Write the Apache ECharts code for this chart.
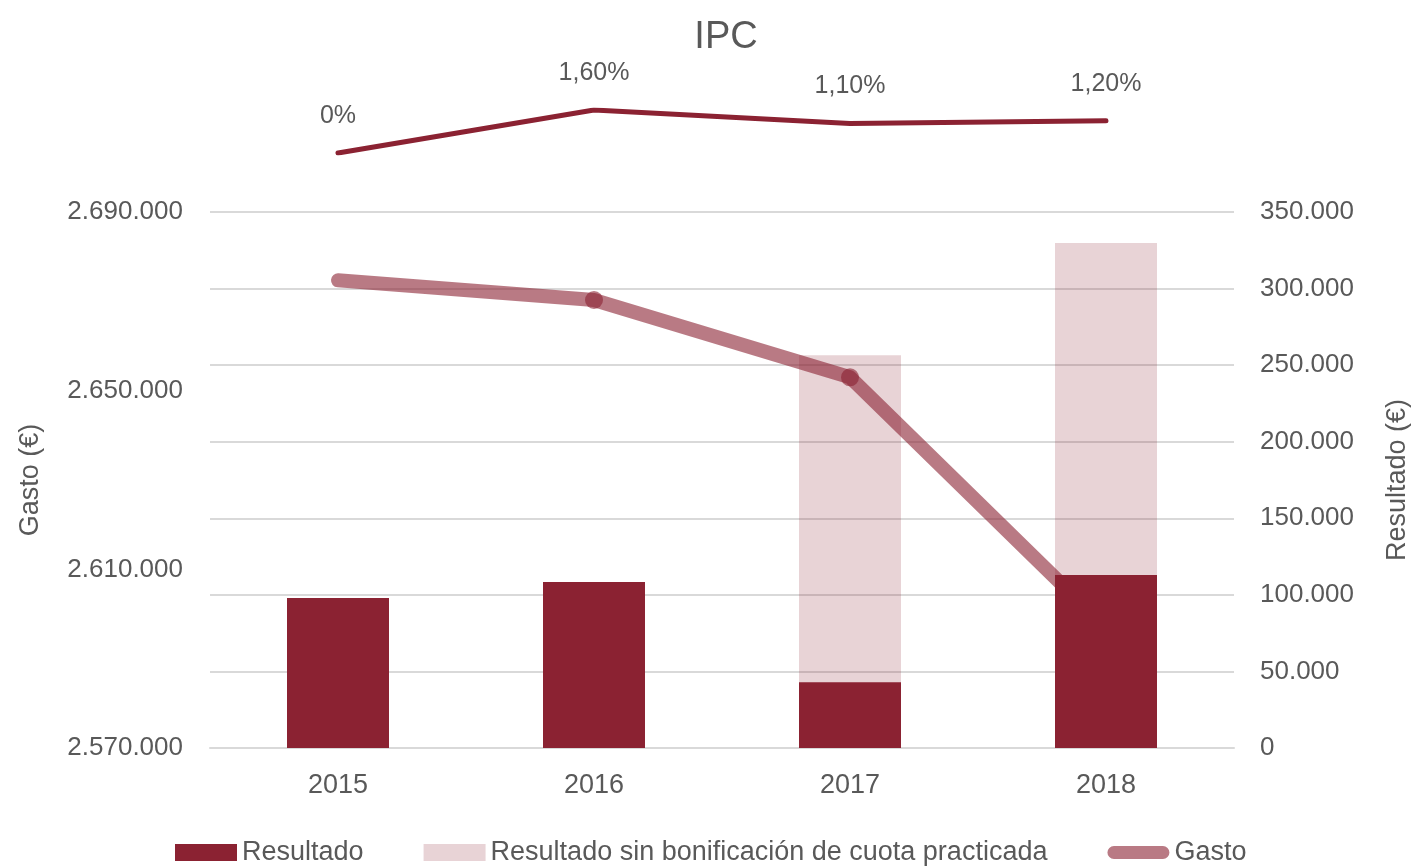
<!DOCTYPE html>
<html>
<head>
<meta charset="utf-8">
<title>IPC</title>
<script src="https://cdn.jsdelivr.net/npm/echarts@6/dist/echarts.min.js"></script>
<style>
  html, body { margin: 0; padding: 0; background: #fff; }
  #chart { width: 1414px; height: 867px; }
</style>
</head>
<body>
<div id="chart"></div>
<script>
// datos
const years = ['2015', '2016', '2017', '2018']
const ipc = [0, 1.6, 1.1, 1.2]
const gasto = [2674700, 2670300, 2653000, 2597000]
const resultado = [98000, 108400, 43000, 113000]
const resultadoSinBonif = ['-', '-', 256500, 329800]
const gastoTicks = [2570000, 2610000, 2650000, 2690000]

const gray = '#595959'
const red = '#8b2232'
const font = 'Liberation Sans, Arial, sans-serif'

function miles (v) {
  return String(v).replace(/\B(?=(\d{3})+(?!\d))/g, '.')
}

const myChart = echarts.init(document.getElementById('chart'))
const option = {
  animation: false,
  textStyle: { fontFamily: font, color: gray },
  title: {
    text: 'IPC',
    left: 721,
    top: 14,
    textAlign: 'center',
    textStyle: {
      fontFamily: font,
      fontSize: 38,
      fontWeight: 'normal',
      color: gray
    }
  },
  legend: {
    left: 170,
    top: 834,
    itemWidth: 62,
    itemHeight: 17,
    itemGap: 60,
    textStyle: { fontSize: 27, color: gray },
    data: [
      { name: 'Resultado', icon: 'rect' },
      { name: 'Resultado sin bonificación de cuota practicada', icon: 'rect', itemStyle: { color: 'rgba(139,34,50,0.2)' } },
      {
        name: 'Gasto',
        icon: 'path://M7,0L60,0A7,7,0,0,1,60,14L7,14A7,7,0,0,1,7,0Z',
        itemStyle: { color: 'rgba(139,34,50,0.6)', opacity: 1 }
      }
    ]
  },
  grid: [
    { left: 210, width: 1024, top: 110, height: 43, outerBoundsMode: 'none' },
    { left: 210, width: 1024, top: 212, height: 536, outerBoundsMode: 'none' }
  ],
  xAxis: [
    { type: 'category', gridIndex: 0, data: years, show: false },
    {
      type: 'category',
      gridIndex: 1,
      data: years,
      axisLine: { lineStyle: { color: '#d9d9d9', width: 2 } },
      axisTick: { show: false },
      axisLabel: { fontSize: 27, color: gray, margin: 24 }
    }
  ],
  yAxis: [
    { type: 'value', gridIndex: 0, min: 0, max: 1.6, show: false },
    {
      type: 'value',
      gridIndex: 1,
      min: 2570000,
      max: 2690000,
      name: 'Gasto (€)',
      nameLocation: 'middle',
      nameGap: 166,
      nameTextStyle: { fontSize: 27, color: gray },
      axisLine: { show: false },
      axisTick: { show: false },
      splitLine: { show: false },
      axisLabel: {
        fontSize: 26,
        color: gray,
        margin: 27,
        customValues: gastoTicks,
        formatter: miles
      }
    },
    {
      type: 'value',
      gridIndex: 1,
      position: 'right',
      min: 0,
      max: 350000,
      interval: 50000,
      name: 'Resultado (€)',
      nameLocation: 'middle',
      nameGap: 150,
      nameTextStyle: { fontSize: 27, color: gray },
      axisLine: { show: false },
      axisTick: { show: false },
      splitLine: { lineStyle: { color: '#d9d9d9', width: 2 } },
      axisLabel: { fontSize: 26, color: gray, margin: 26, formatter: miles }
    }
  ],
  series: [
    {
      name: 'IPC',
      type: 'line',
      xAxisIndex: 0,
      yAxisIndex: 0,
      data: ipc,
      symbol: 'circle',
      symbolSize: 1,
      lineStyle: { color: red, width: 5, cap: 'round', join: 'round' },
      itemStyle: { color: red },
      label: {
        show: true,
        position: 'top',
        distance: 24,
        fontSize: 25,
        color: gray,
        formatter: p => (p.value === 0 ? '0%' : p.value.toFixed(2).replace('.', ',') + '%')
      }
    },
    {
      name: 'Resultado sin bonificación de cuota practicada',
      type: 'bar',
      xAxisIndex: 1,
      yAxisIndex: 2,
      data: resultadoSinBonif,
      barWidth: 102,
      barGap: '-100%',
      z: 1,
      itemStyle: { color: 'rgba(139,34,50,0.2)' }
    },
    {
      name: 'Resultado',
      type: 'bar',
      xAxisIndex: 1,
      yAxisIndex: 2,
      data: resultado,
      barWidth: 102,
      barGap: '-100%',
      z: 3,
      itemStyle: { color: red }
    },
    {
      name: 'Gasto',
      type: 'line',
      xAxisIndex: 1,
      yAxisIndex: 1,
      z: 2,
      data: gasto.map((v, i) => ({ value: v, symbolSize: i === 0 ? 0 : 18 })),
      symbol: 'circle',
      lineStyle: { color: red, width: 14, opacity: 0.6, cap: 'round', join: 'round' },
      itemStyle: { color: red, opacity: 0.6 }
    }
  ]
}
myChart.setOption(option)
</script>
</body>
</html>
